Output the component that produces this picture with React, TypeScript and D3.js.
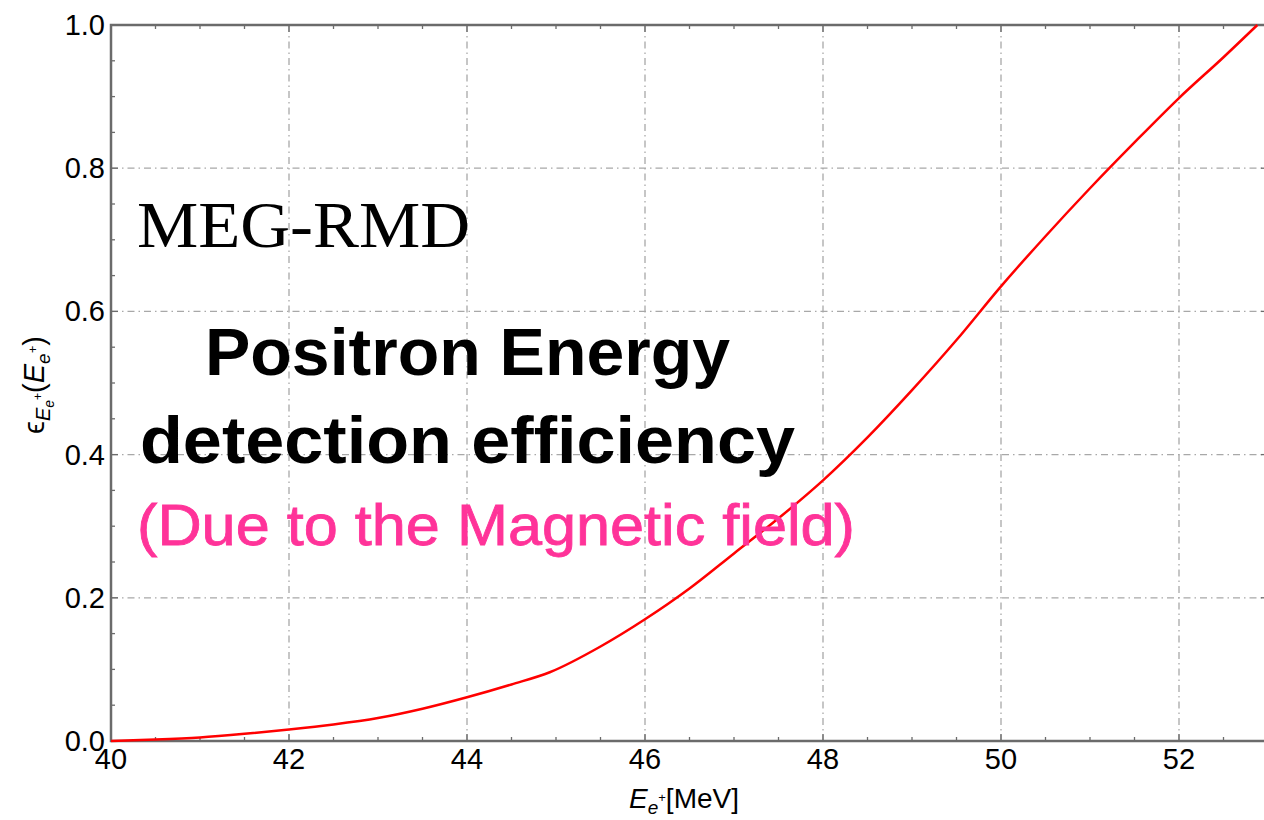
import React from "react";
import * as d3 from "d3";

const energies = [40, 40.5, 41, 41.5, 42, 42.5, 43, 43.5, 44, 44.5, 44.93, 45.5, 46, 46.5, 47, 47.5, 48, 48.5, 49, 49.5, 50, 50.5, 51, 51.5, 52, 52.5, 52.88];
const efficiency = [0, 0.002, 0.005, 0.010, 0.016, 0.023, 0.032, 0.045, 0.061, 0.079, 0.096, 0.132, 0.170, 0.213, 0.262, 0.311, 0.364, 0.424, 0.490, 0.560, 0.635, 0.705, 0.772, 0.836, 0.898, 0.955, 1.0];

const xMajor = [40, 42, 44, 46, 48, 50, 52];
const yMajor = [0, 0.2, 0.4, 0.6, 0.8, 1.0];
const yLabels = ["0.0", "0.2", "0.4", "0.6", "0.8", "1.0"];

const W = 1264, H = 820;
const left = 111, right = 1268, top = 25, bottom = 741;

export default function App() {
  const x = d3.scaleLinear().domain([40, 53]).range([left, right]);
  const y = d3.scaleLinear().domain([0, 1]).range([bottom, top]);
  const xMinor = d3.range(40, 53.01, 0.5);
  const yMinor = d3.range(0, 1.001, 0.05);
  const pts: [number, number][] = energies.map((e, i) => [e, efficiency[i]]);
  const line = d3.line<[number, number]>().x(d => x(d[0])).y(d => y(d[1])).curve(d3.curveMonotoneX);
  const grid = "#a8a8a8";
  const frame = "#6b6b6b";
  const isMajorX = (v: number) => Math.abs(v / 2 - Math.round(v / 2)) < 1e-6;
  const isMajorY = (v: number) => Math.abs(v / 0.2 - Math.round(v / 0.2)) < 1e-6;
  return (
    <svg width={W} height={H} style={{ position: "absolute", left: 0, top: 0, background: "#fff" }} fontFamily="'Liberation Sans', Arial, sans-serif">
      <rect x={0} y={0} width={W} height={H} fill="#fff" />
      {xMajor.filter(v => v > 40).map(v => (
        <line key={"gx" + v} x1={x(v)} x2={x(v)} y1={top} y2={bottom} stroke={grid} strokeWidth={1.3} strokeDasharray="7,4,1.5,4" />
      ))}
      {yMajor.filter(v => v > 0 && v < 1).map(v => (
        <line key={"gy" + v} x1={left} x2={right} y1={y(v)} y2={y(v)} stroke={grid} strokeWidth={1.3} strokeDasharray="7,4,1.5,4" />
      ))}
      {xMinor.map(v => {
        const len = isMajorX(v) ? 7 : 4;
        return (
          <g key={"tx" + v}>
            <line x1={x(v)} x2={x(v)} y1={bottom} y2={bottom - len} stroke={frame} strokeWidth={1.3} />
            <line x1={x(v)} x2={x(v)} y1={top} y2={top + len} stroke={frame} strokeWidth={1.3} />
          </g>
        );
      })}
      {yMinor.map(v => {
        const len = isMajorY(v) ? 7 : 4;
        return (
          <g key={"ty" + v}>
            <line x1={left} x2={left + len} y1={y(v)} y2={y(v)} stroke={frame} strokeWidth={1.3} />
            <line x1={right} x2={right - len} y1={y(v)} y2={y(v)} stroke={frame} strokeWidth={1.3} />
          </g>
        );
      })}
      <rect x={left} y={top} width={right - left} height={bottom - top} fill="none" stroke={frame} strokeWidth={2.5} />
      <path d={line(pts) || ""} fill="none" stroke="#ff0000" strokeWidth={2.5} />
      {xMajor.map(v => (
        <text key={"lx" + v} x={x(v)} y={769} fontSize={29} textAnchor="middle" fill="#000">{String(v)}</text>
      ))}
      {yMajor.map((v, i) => (
        <text key={"ly" + v} x={105} y={y(v) + 10} fontSize={29} textAnchor="end" fill="#000">{yLabels[i]}</text>
      ))}
      <text x={629} y={808} fontSize={28} fill="#000">
        <tspan fontStyle="italic">E</tspan>
        <tspan fontSize={19} dy={6} fontStyle="italic">e</tspan>
        <tspan fontSize={13} dy={-12}>+</tspan>
        <tspan fontSize={28} dy={6}>[MeV]</tspan>
      </text>
      <text transform="translate(44,385) rotate(-90)" textAnchor="middle" fontSize={29} fill="#000">
        <tspan>ϵ</tspan>
        <tspan fontSize={20} dy={6} fontStyle="italic">E</tspan>
        <tspan fontSize={14} dy={4} fontStyle="italic">e</tspan>
        <tspan fontSize={12} dy={-12}>+</tspan>
        <tspan fontSize={29} dy={2}>(</tspan>
        <tspan fontStyle="italic">E</tspan>
        <tspan fontSize={19} dy={6} fontStyle="italic">e</tspan>
        <tspan fontSize={13} dy={-13}>+</tspan>
        <tspan fontSize={29} dy={7}>)</tspan>
      </text>
      <text x={137} y={247} fontSize={66} fontFamily="'Liberation Serif', 'Times New Roman', serif" fill="#000" textLength={333} lengthAdjust="spacingAndGlyphs">MEG-RMD</text>
      <text x={205} y={375} fontSize={66} fontWeight="bold" fill="#000" textLength={525} lengthAdjust="spacingAndGlyphs">Positron Energy</text>
      <text x={140} y={463} fontSize={66} fontWeight="bold" fill="#000" textLength={655} lengthAdjust="spacingAndGlyphs">detection efficiency</text>
      <text x={137} y={545} fontSize={57} fill="#ff3399" stroke="#ff3399" strokeWidth={0.8} textLength={718} lengthAdjust="spacingAndGlyphs">(Due to the Magnetic field)</text>
    </svg>
  );
}
